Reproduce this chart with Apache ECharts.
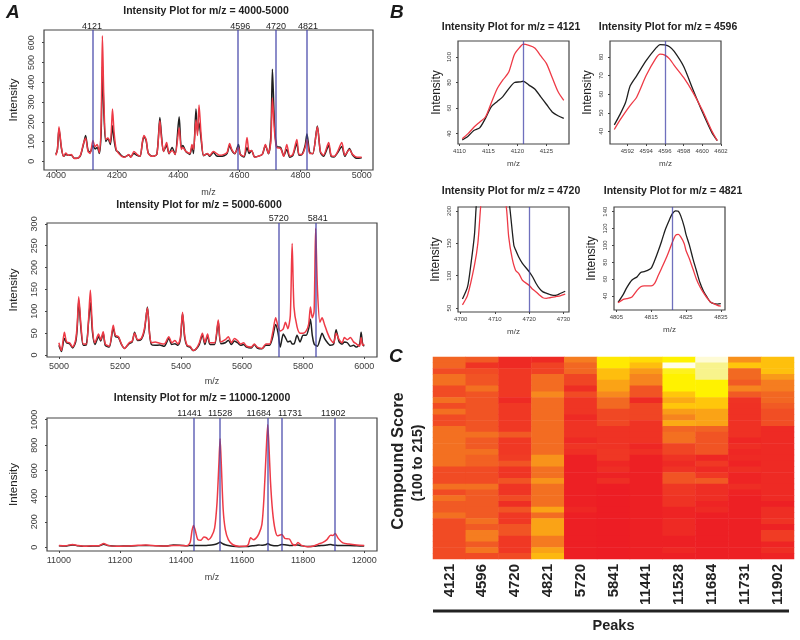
<!DOCTYPE html>
<html>
<head>
<meta charset="utf-8">
<style>html,body{margin:0;padding:0;background:#fff}#c{width:800px;height:640px}</style>
<script src="https://cdn.jsdelivr.net/npm/echarts@6/dist/echarts.min.js"></script>
</head>
<body>
<div id="c"></div>
<script>
// Panel A, m/z 4000-5000
const a1Mz=[4000,4005,4010,4018,4025,4032,4040,4050,4060,4070,4080,4090,4097,4105,4112,4121,4128,4135,4142,4148,4152,4157,4163,4170,4178,4185,4190,4197,4205,4215,4225,4238,4245,4255,4265,4275,4283,4288,4295,4302,4315,4330,4340,4345,4352,4362,4370,4380,4390,4403,4410,4415,4425,4438,4445,4450,4458,4463,4468,4475,4483,4495,4503,4515,4525,4535,4550,4560,4568,4575,4585,4597,4603,4615,4625,4632,4640,4650,4660,4675,4685,4695,4703,4708,4715,4722,4735,4745,4755,4765,4775,4788,4795,4805,4815,4821,4830,4840,4855,4865,4875,4892,4900,4910,4920,4935,4945,4960,4970,4985,5000];
const a1Red=[30,60,175,70,25,42,30,35,14,15,30,90,118,50,40,105,75,85,45,200,635,300,110,118,95,265,150,60,40,25,20,35,20,50,35,25,100,130,110,40,25,35,205,120,50,95,40,55,35,170,60,70,50,40,85,60,210,130,285,130,30,40,30,50,40,30,35,45,90,60,40,70,35,25,120,50,55,20,25,35,85,40,100,320,150,70,65,25,85,25,35,110,35,35,70,110,40,40,175,50,30,95,30,25,45,95,30,60,35,20,20];
const a1Black=[35,60,165,65,25,35,30,32,15,15,28,85,130,55,45,80,62,70,40,150,480,240,100,115,85,180,110,55,45,28,22,32,22,40,30,25,95,125,105,42,25,35,222,135,50,80,38,70,35,225,70,80,50,35,75,40,265,150,195,110,28,38,25,45,28,25,28,40,80,55,38,85,35,22,70,40,55,22,25,35,80,38,130,465,180,75,70,28,60,20,30,90,30,35,80,138,45,38,178,45,25,80,25,22,40,75,25,65,32,15,18];
// Panel A, m/z 5000-6000
const a2Mz=[5000,5008,5018,5025,5035,5045,5055,5060,5065,5072,5080,5090,5097,5103,5110,5118,5130,5137,5145,5152,5165,5178,5185,5195,5205,5215,5230,5240,5248,5258,5270,5280,5290,5297,5303,5315,5330,5345,5360,5370,5380,5390,5398,5405,5412,5420,5430,5440,5450,5460,5470,5478,5487,5495,5510,5522,5530,5545,5555,5565,5575,5585,5595,5605,5615,5630,5640,5650,5665,5678,5690,5700,5710,5718,5725,5735,5742,5750,5758,5764,5770,5780,5790,5800,5810,5818,5824,5830,5836,5841,5847,5855,5862,5870,5880,5890,5900,5908,5918,5928,5935,5945,5955,5965,5975,5985,5990,5995,6000];
const a2Red=[28,10,52,30,28,18,35,70,133,70,25,25,80,148,60,28,48,35,53,25,20,68,45,42,25,15,28,32,50,35,38,60,108,50,28,30,27,25,42,28,33,25,40,98,45,22,20,10,15,28,50,28,48,28,28,80,30,35,42,28,38,33,25,28,20,18,25,18,15,25,25,50,85,65,55,60,75,60,90,255,110,65,50,50,55,70,110,85,100,290,150,75,85,70,50,35,28,50,35,28,40,35,40,30,25,20,40,22,25];
const a2Black=[22,8,38,28,26,16,30,62,125,62,22,24,75,120,52,24,42,32,50,22,18,62,42,40,24,15,26,30,52,33,36,55,110,48,24,22,23,20,38,24,26,22,36,95,40,20,18,10,14,24,46,24,44,24,24,76,26,28,34,24,32,28,22,24,18,16,24,16,14,22,22,40,70,50,18,48,40,30,32,25,25,45,30,45,45,60,82,45,25,22,20,35,50,38,28,22,25,58,30,25,30,28,20,22,18,25,52,25,20];
// Panel A, m/z 11000-12000
const a3Mz=[11000,11020,11045,11060,11085,11110,11130,11147,11160,11190,11220,11250,11285,11320,11350,11375,11395,11420,11430,11436,11441,11447,11455,11465,11475,11483,11490,11500,11510,11518,11524,11528,11532,11538,11545,11555,11570,11590,11610,11620,11628,11637,11645,11655,11665,11672,11679,11684,11688,11693,11700,11708,11716,11730,11740,11755,11765,11775,11783,11795,11815,11835,11850,11865,11878,11890,11897,11905,11915,11930,11950,11975,12000];
const a3Red=[15,12,22,15,8,12,12,30,15,8,10,14,18,12,10,15,15,12,40,130,170,130,60,55,80,75,60,85,150,350,650,850,650,300,140,60,20,8,8,20,75,60,70,105,180,400,750,960,800,520,280,140,90,100,70,65,25,15,38,15,5,10,25,38,60,95,92,108,70,35,25,18,15];
const a3Black=[12,10,18,13,8,10,10,24,14,8,10,12,15,12,10,18,16,12,14,15,14,14,15,14,15,15,16,18,22,28,34,42,34,26,20,14,8,5,6,7,10,12,14,18,16,18,22,30,24,18,14,12,12,22,20,14,15,18,18,12,6,8,12,15,18,22,18,16,14,14,14,12,10];
// Panel B, four zoomed peaks
const b1Mz=[4110.5,4111.5,4112.5,4113.5,4114.5,4115.5,4116.5,4117.5,4118.5,4119.5,4120.5,4121,4122,4123,4124,4125,4126,4127,4128];
const b1Black=[35,38,42.5,44.5,52,61,65,69,75,80,80.5,81,78,75,69,63,57,54,52];
const b1Red=[36,40,45,49,53,64,75,82,88,102,108,110,109,107,101,95,84,73,66];
const b2Mz=[4590.6,4591.2,4591.8,4592.3,4593,4594,4595,4595.5,4596,4596.5,4597,4598,4599,4600,4601,4601.6];
const b2Black=[43.5,49,55.5,64.5,70,78,84.5,86.7,86.5,85.5,83,75,62.5,50.5,39.6,35];
const b2Red=[41,46,50.5,54,58.5,70,79,81.5,81,79,75.5,69,61,51.5,40.5,35];
const b3MzBlack=[4700.5,4702,4703,4704,4704.5,4706,4708,4712,4714.3,4715.5,4716,4717,4718,4720,4721,4722,4723,4724,4725,4726,4727,4728,4729,4730.5];
const b3Black=[64,83,119,163,206,300,465,300,206,147,140,128,119,106,98,88,80,75,73,71,69.7,70,72.5,76];
const b3MzRed=[4700.5,4702,4704,4705,4705.8,4706.5,4708,4711,4713.3,4714,4715,4716,4717,4718,4720,4721,4722,4723,4724,4725,4726,4727,4728,4729,4730.5];
const b3Red=[55,70,116,150,206,250,320,280,206,160,127,108.5,103,93,85,79,75,70,66,65,66,67,68,69,71.5];
const b4Mz=[4805.5,4807,4808,4809.5,4811,4812,4813,4814,4815,4816,4817,4818,4819,4820,4821,4822,4822.8,4823.5,4824.5,4825,4826,4827,4828,4829,4830,4831,4832,4833,4834,4835];
const b4Black=[32.5,42,50,59,63,68,69,70.5,73,82,93,105,118,128,137,141,140.5,135,122,113,100,84,70,56,46,39,33,31,30.5,31];
const b4Red=[32,36,37,39,47,51,52,52,52,55,64,73,82,92,103,112,113,110,102,94,84,72,60,51,44,38,33,31,29,28];
// Panel C, heat map columns, one value per row from top to bottom
const peakLabels=['4121','4596','4720','4821','5720','5841','11441','11528','11684','11731','11902'];
const rowLabels=['r01','r02','r03','r04','r05','r06','r07','r08','r09','r10','r11','r12','r13','r14','r15','r16','r17','r18','r19','r20','r21','r22','r23','r24','r25','r26','r27','r28','r29','r30','r31','r32','r33','r34','r35'];
const c4121=[3.5,3.5,2.5,4,4,2.5,2.5,4,2.5,4,2.5,2.5,4,4,4,4,4,4,4,2.5,2.5,2.5,4,2.5,4,3,3,4,2.5,2.5,2.5,2.5,2.5,2.5,2.5];
const c4596=[3,1.5,2.5,2.8,2.8,4,2.8,2.8,2.8,2.8,2.8,2.8,2.8,4,3,3,4,3.3,3.3,2.5,2.5,2.5,4,3,3,3,3,3,4,3,4.5,4.5,3,4.2,2.5];
const c4720=[1,1,1.8,1.8,1.8,1.8,1.8,1,1.8,1.8,1.8,1.8,1.8,3,1.8,1.8,1.8,2,2.8,1.6,1.6,2.8,1.6,1.6,2.5,1.2,2.8,1.8,1.8,2.8,2.8,1.8,1.8,1.8,2.5];
const c4821=[1,2.2,2.2,3.8,3.8,3.8,5,3.8,3.8,3.8,3.8,3.8,3.8,3.8,3.8,3.8,3.8,5.3,5.3,4,4,5.3,4,4,4,4,5.8,3.8,5.8,5.8,5.8,4.4,4.4,5.8,6.5];
const c5720=[4.5,3.6,3.6,2.3,2.3,1.2,2.5,1.6,1.6,1.6,1,1.5,1.5,1.5,1,1.6,1.3,.3,.3,.3,.3,.3,.3,.3,.3,.3,.8,.2,.2,.2,.2,.2,.2,.2,.2];
const c5841=[7.8,7.8,6.7,6.7,5.8,5.8,5,3.7,3.7,2.4,2.4,2.4,1.5,1.5,1.5,1.5,1.7,1.7,.8,1.2,.4,1.2,.1,.1,.1,.1,.1,.1,.1,.1,.1,.1,.1,.1,.1];
const c11441=[7.5,6.7,5.5,4.8,4.8,2.8,2.8,1,2.3,2.3,2.3,1.5,1.5,1.5,1.5,.8,1.3,.3,.3,.3,.3,.3,.3,.3,.3,.3,.3,.3,.3,.3,.3,.3,.3,.3,.3];
const c11528=[8,10,8.2,8,8,8,7,6,7,5.6,4.8,6,3.5,4,4,2.3,2.3,1.5,1,1.5,2.8,2.8,1.7,1.7,1.5,1.5,.6,.6,1,1,1,.3,.3,.8,.3];
const c11684=[9.8,9,9,9,8,8,8,7,7,5.8,5.8,5.8,3.4,2.8,2.8,2.8,2.8,.8,1.8,1,1.8,3,1.2,1.2,1.2,.6,1,.2,.2,.2,.2,.2,.2,.2,.2];
const c11731=[5.2,7,3.7,3.7,3,4.8,3,1.5,1.4,1.4,1.4,1.4,1.4,1.4,.7,1.2,.8,1,.5,1.2,.6,.6,1.2,.5,.3,.3,.3,.3,.3,.3,.3,.3,.3,.3,.3];
const c11902=[6.8,6.8,6.8,5.5,4.5,4.5,3.6,3.6,3,2.6,2.6,2.6,1,1,1,1,1,1,1,1,1,1,1,1,1,.3,1.2,1.2,1.5,.4,2,2,.6,1.2,.5];
const heatColumns=[c4121,c4596,c4720,c4821,c5720,c5841,c11441,c11528,c11684,c11731,c11902];
// Ticks and marked peaks
const a1XTicks=[4000,4200,4400,4600,4800,5000], a1YTicks=[0,100,200,300,400,500,600], a1Peaks=[4121,4596,4720,4821];
const a2XTicks=[5000,5200,5400,5600,5800,6000], a2YTicks=[0,50,100,150,200,250,300], a2Peaks=[5720,5841];
const a3XTicks=[11000,11200,11400,11600,11800,12000], a3YTicks=[0,200,400,600,800,1000], a3Peaks=[11441,11528,11684,11731,11902];
const b1XTicks=[4110,4115,4120,4125], b1YTicks=[40,60,80,100];
const b2XTicks=[4592,4594,4596,4598,4600,4602], b2YTicks=[40,50,60,70,80];
const b3XTicks=[4700,4710,4720,4730], b3YTicks=[50,100,150,200];
const b4XTicks=[4805,4815,4825,4835], b4YTicks=[40,60,80,100,120,140];

const FONT='"Liberation Sans",Arial,sans-serif';
const BLUE='rgba(70,72,170,0.78)', RED='#ee3a46', BLACK='#1f1f1f', INK='#3c3c3c';
const pairs=(x,y)=>x.map((v,i)=>[v,y[i]]);

const panels=[
 {box:[44,30,373,170],xr:[3961,5037],yr:[-44,664],xt:a1XTicks,yt:a1YTicks,peaks:a1Peaks,off:[-1,2,0,1],ly:2,xm:1,xg:18,yg:24,black:pairs(a1Mz,a1Black),red:pairs(a1Mz,a1Red),title:'Intensity Plot for m/z = 4000-5000',tx:206,ty:6,big:true},
 {box:[47,223,377,357],xr:[4961,6042],yr:[-4.6,302],xt:a2XTicks,yt:a2YTicks,peaks:a2Peaks,off:[0,2],ly:1,xm:5,xg:20,yg:27,black:pairs(a2Mz,a2Black),red:pairs(a2Mz,a2Red),title:'Intensity Plot for m/z = 5000-6000',tx:199,ty:200,big:true},
 {box:[47,418,377,551],xr:[10961,12042],yr:[-29,1013],xt:a3XTicks,yt:a3YTicks,peaks:a3Peaks,off:[-4,0,-9,8,-1],ly:1,xm:5,xg:22,yg:27,black:pairs(a3Mz,a3Black),red:pairs(a3Mz,a3Red),title:'Intensity Plot for m/z = 11000-12000',tx:202,ty:393,big:true},
 {box:[458,41,569,144],xr:[4109.77,4128.9],yr:[31.9,112.5],xt:b1XTicks,yt:b1YTicks,peaks:[4121],xm:4,xg:16,yg:15.5,black:pairs(b1Mz,b1Black),red:pairs(b1Mz,b1Red),title:'Intensity Plot for m/z = 4121',tx:511,ty:22},
 {box:[610,41,721,144],xr:[4590.14,4602],yr:[33.2,88.6],xt:b2XTicks,yt:b2YTicks,peaks:[4596],xm:4,xg:16,yg:16.5,black:pairs(b2Mz,b2Black),red:pairs(b2Mz,b2Red),title:'Intensity Plot for m/z = 4596',tx:668,ty:22},
 {box:[458,207,569,312],xr:[4699.2,4731.6],yr:[44,206],xt:b3XTicks,yt:b3YTicks,peaks:[4720],xm:4,xg:16,yg:16,black:pairs(b3MzBlack,b3Black),red:pairs(b3MzRed,b3Red),title:'Intensity Plot for m/z = 4720',tx:511,ty:186},
 {box:[614,207,725,310],xr:[4804.33,4836.2],yr:[23.5,145.5],xt:b4XTicks,yt:b4YTicks,peaks:[4821],xm:4,xg:16,yg:16.5,black:pairs(b4Mz,b4Black),red:pairs(b4Mz,b4Red),title:'Intensity Plot for m/z = 4821',tx:673,ty:186}
];

const grid=[],xAxis=[],yAxis=[],series=[],title=[];
panels.forEach((p,i)=>{
  const [l,t,r,b]=p.box, big=!!p.big, tick=big?9:6, lw=big?1.5:1.3;
  grid.push({left:l,top:t,width:r-l,height:b-t,show:true,backgroundColor:'#fff',borderColor:'#444',borderWidth:1.2});
  xAxis.push({type:'value',gridIndex:i,min:p.xr[0],max:p.xr[1],splitLine:{show:false},axisLine:{show:false,onZero:false},
    axisTick:{show:true,length:2,customValues:p.xt,lineStyle:{color:'#444'}},
    axisLabel:{customValues:p.xt,formatter:v=>String(v),fontFamily:FONT,fontSize:tick,color:INK,margin:p.xm},
    name:'m/z',nameLocation:'middle',nameGap:p.xg,nameTextStyle:{fontFamily:FONT,fontSize:big?9:8,color:INK}});
  yAxis.push({type:'value',gridIndex:i,min:p.yr[0],max:p.yr[1],splitLine:{show:false},axisLine:{show:false,onZero:false},
    axisTick:{show:true,length:2,customValues:p.yt,lineStyle:{color:'#444'}},
    axisLabel:{customValues:p.yt,rotate:90,formatter:v=>String(v),fontFamily:FONT,fontSize:tick,color:INK,margin:big?8:5.5},
    name:'Intensity',nameLocation:'middle',nameGap:p.yg,nameTextStyle:{fontFamily:FONT,fontSize:big?11.5:12,color:'#222'}});
  series.push({type:'line',xAxisIndex:i,yAxisIndex:i,data:p.black,showSymbol:false,smooth:0.25,lineStyle:{color:BLACK,width:lw},z:2,clip:true});
  series.push({type:'line',xAxisIndex:i,yAxisIndex:i,data:p.red,showSymbol:false,smooth:0.25,lineStyle:{color:RED,width:lw},z:3,clip:true,
    markLine:{silent:true,symbol:'none',animation:false,z:5,
      lineStyle:{color:BLUE,width:big?1.6:1.3,type:'solid'},
      label:{show:big,position:'end',distance:1,formatter:d=>String(d.value),fontFamily:FONT,fontSize:9,color:'#222'},
      data:p.peaks.map((v,k)=>({xAxis:v,label:{offset:[big?p.off[k]:0,big?p.ly:0]}}))}});
  title.push({text:p.title,left:p.tx,top:p.ty,textAlign:'center',padding:0,
    textStyle:{fontFamily:FONT,fontWeight:'bold',fontSize:10.5,color:'#222'}});
});

// Heat map, panel C
const hi=panels.length;
grid.push({left:433,top:357,width:361,height:202,show:false});
xAxis.push({type:'category',gridIndex:hi,data:peakLabels,axisLine:{show:false,onZero:false},axisTick:{show:false},splitLine:{show:false},
  axisLabel:{interval:0,rotate:90,fontFamily:FONT,fontWeight:'bold',fontSize:15,color:'#222',margin:5},
  name:'Peaks',nameLocation:'middle',nameGap:59,nameTextStyle:{fontFamily:FONT,fontWeight:'bold',fontSize:14.5,color:'#222'}});
yAxis.push({type:'category',gridIndex:hi,inverse:true,data:rowLabels,axisLine:{show:false},axisTick:{show:false},axisLabel:{show:false},splitLine:{show:false}});
const heatData=[];
heatColumns.forEach((col,x)=>col.forEach((v,y)=>heatData.push([x,y,v])));
series.push({type:'heatmap',xAxisIndex:hi,yAxisIndex:hi,data:heatData,progressive:0,itemStyle:{borderWidth:0},emphasis:{disabled:true}});

[['A',6,3],['B',390,3],['C',389,347]].forEach(([s,x,y])=>title.push({text:s,left:x,top:y,padding:0,
  textStyle:{fontFamily:FONT,fontWeight:'bold',fontStyle:'italic',fontSize:19,color:'#1a1a1a'}}));

const chart=echarts.init(document.getElementById('c'),null,{renderer:'canvas',width:800,height:640});
chart.setOption({animation:false,backgroundColor:'#fff',title,grid,xAxis,yAxis,series,
  visualMap:{show:false,type:'continuous',seriesIndex:series.length-1,min:0,max:10,dimension:2,
    inRange:{color:['#ed1c24','#ee2a24','#f03c24','#f15a24','#f37021','#f7891e','#fbaa14','#ffc60b','#fff200','#f8f38c','#fffde8']}},
  graphic:[
    {type:'rect',shape:{x:433,y:609.5,width:356,height:3},style:{fill:'#222'}},
    {type:'text',x:398,y:461,rotation:Math.PI/2,style:{text:'Compound Score',fontFamily:FONT,fontWeight:'bold',fontSize:16.5,fill:'#222',align:'center',verticalAlign:'middle'}},
    {type:'text',x:418,y:463,rotation:Math.PI/2,style:{text:'(100 to 215)',fontFamily:FONT,fontWeight:'bold',fontSize:14,fill:'#222',align:'center',verticalAlign:'middle'}}
  ]});
</script>
</body>
</html>
